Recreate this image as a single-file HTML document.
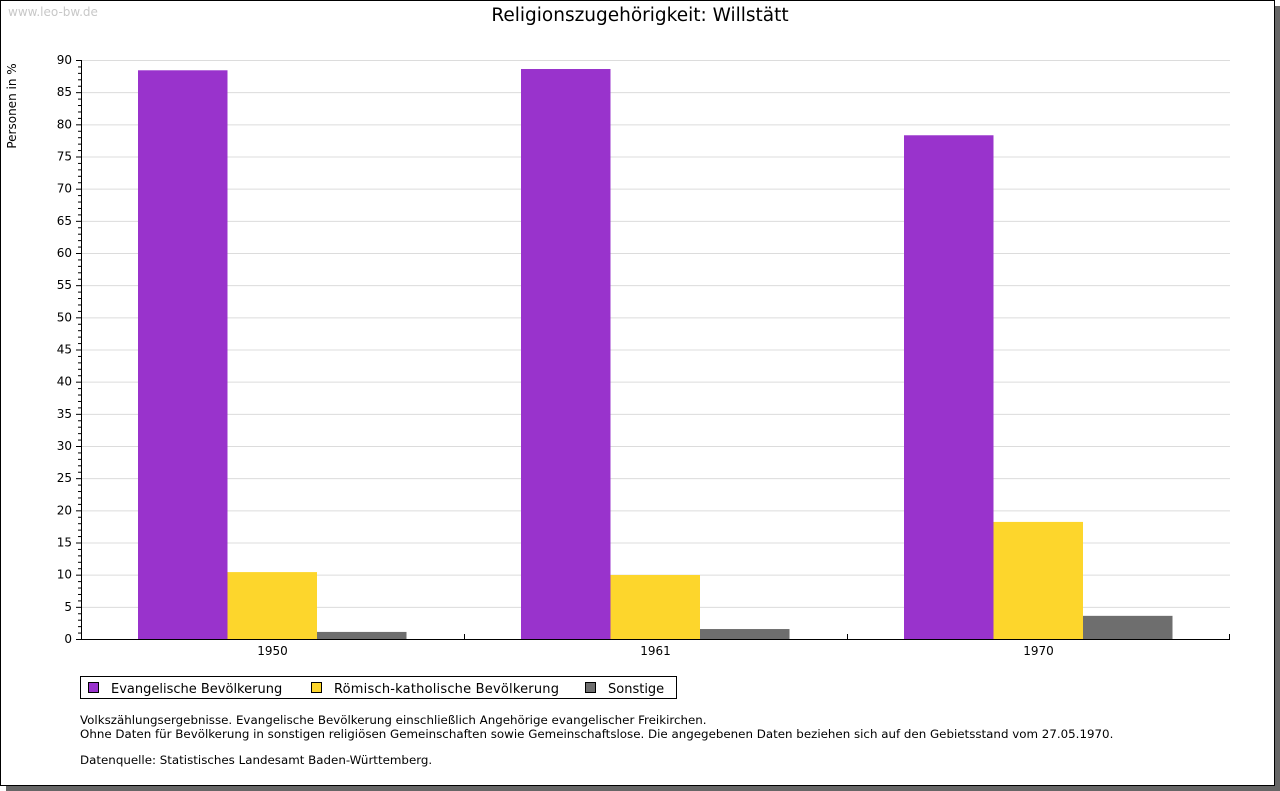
<!DOCTYPE html>
<html><head><meta charset="utf-8"><style>
body{margin:0;background:#fff;font-family:"DejaVu Sans","Liberation Sans",sans-serif;}
#wrap{position:relative;width:1280px;height:791px;overflow:hidden;}
</style></head><body>
<div id="wrap">
<svg id="svg" width="1280" height="791" xmlns="http://www.w3.org/2000/svg" font-family="DejaVu Sans, Liberation Sans, sans-serif">
<rect x="6" y="6" width="1274" height="785" fill="#666"/>
<rect x="0.5" y="0.5" width="1274" height="785" fill="#fff" stroke="#000"/>
<text x="8" y="16" font-size="12" fill="#c8c8c8">www.leo-bw.de</text>
<text x="640" y="21" font-size="18.5" text-anchor="middle" fill="#000">Religionszugehörigkeit: Willstätt</text>
<text transform="translate(16,106) rotate(-90)" font-size="12" text-anchor="middle">Personen in %</text>
<g id="grid"></g><g id="bars"></g><g id="axes"></g>
<g>
<rect x="80.5" y="676.5" width="596" height="22" fill="#fff" stroke="#000"/>
<g><rect x="88.5" y="682.5" width="10" height="10" fill="#9933cc" stroke="#000"/><text x="111" y="693" font-size="13">Evangelische Bevölkerung</text></g>
<g><rect x="311.5" y="682.5" width="10" height="10" fill="#fdd62c" stroke="#000"/><text x="334" y="693" font-size="13" textLength="225">Römisch-katholische Bevölkerung</text></g>
<g><rect x="585.5" y="682.5" width="10" height="10" fill="#6e6e6e" stroke="#000"/><text x="608" y="693" font-size="13">Sonstige</text></g>
</g>
<g font-size="11.85">
<text x="80" y="724">Volkszählungsergebnisse. Evangelische Bevölkerung einschließlich Angehörige evangelischer Freikirchen.</text>
<text x="80" y="738">Ohne Daten für Bevölkerung in sonstigen religiösen Gemeinschaften sowie Gemeinschaftslose. Die angegebenen Daten beziehen sich auf den Gebietsstand vom 27.05.1970.</text>
<text x="80" y="764">Datenquelle: Statistisches Landesamt Baden-Württemberg.</text>
</g>
</svg></div>
<script>
const categories=["1950","1961","1970"];
const evangelisch=[88.4,88.6,78.3];
const katholisch=[10.4,9.95,18.2];
const sonstige=[1.1,1.55,3.6];
const yTicks=[0,5,10,15,20,25,30,35,40,45,50,55,60,65,70,75,80,85,90];
const NS="http://www.w3.org/2000/svg";
const X0=81,X1=1230,Y0=639,Y1=60,YMAX=90;
const y=v=>Y0-(v/YMAX)*(Y0-Y1);
const gw=(X1-X0)/categories.length;
function mk(t,a,p){const e=document.createElementNS(NS,t);for(const k in a)e.setAttribute(k,a[k]);p.appendChild(e);return e;}
const grid=document.getElementById('grid'),bars=document.getElementById('bars'),axes=document.getElementById('axes');
yTicks.forEach(v=>{if(v>0){const l=mk('line',{x1:X0,x2:X1,y1:y(v)+.5,y2:y(v)+.5,stroke:'#dcdcdc'},grid);}
const t=mk('text',{x:72,y:y(v)+4,'font-size':12,'text-anchor':'end'},axes);t.textContent=v;
mk('line',{x1:X0-5,x2:X0,y1:y(v)+.5,y2:y(v)+.5,stroke:'#000'},axes);});
for(let v=1;v<YMAX;v++){if(v%5)mk('line',{x1:X0-3,x2:X0,y1:y(v)+.5,y2:y(v)+.5,stroke:'#000'},axes);}
const series=[[evangelisch,'#9933cc','bar-evangelisch'],[katholisch,'#fdd62c','bar-katholisch'],[sonstige,'#6e6e6e','bar-sonstige']];
const bw=89.5,off=57;
categories.forEach((c,i)=>{const gx=X0+i*gw;
series.forEach((s,j)=>{const v=s[0][i];const r=mk('rect',{x:gx+off+j*bw,y:y(v),width:bw,height:Y0-y(v),fill:s[1]},bars);});
const t=mk('text',{x:gx+gw/2,y:655,'font-size':12,'text-anchor':'middle'},axes);t.textContent=c;
if(i>0)mk('line',{x1:Math.round(gx)+.5,x2:Math.round(gx)+.5,y1:Y0,y2:Y0-5,stroke:'#000'},axes);});
mk('line',{x1:X1-.5,x2:X1-.5,y1:Y0,y2:Y0-5,stroke:'#000'},axes);
const ya=mk('line',{x1:X0+.5,x2:X0+.5,y1:Y1,y2:Y0+1,stroke:'#000'},axes);
const xa=mk('line',{x1:X0,x2:X1,y1:Y0+.5,y2:Y0+.5,stroke:'#000'},axes);
</script>
</body></html>
